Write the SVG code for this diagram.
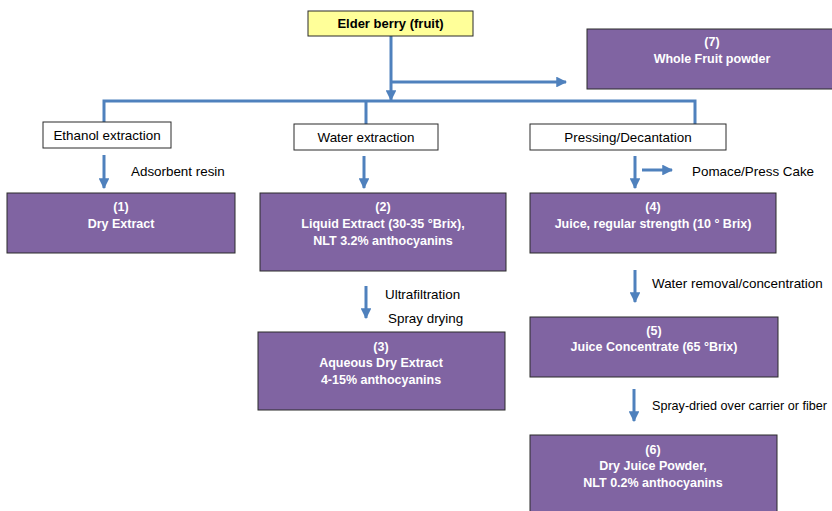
<svg xmlns="http://www.w3.org/2000/svg" width="832" height="511" viewBox="0 0 832 511">
<defs>
<style>
.p{fill:#8064A2;stroke:#2b2b2b;stroke-width:1}
.w{fill:#ffffff;stroke:#2b2b2b;stroke-width:1}
.y{fill:#FFFF99;stroke:#2b2b2b;stroke-width:1}
.tb{font-family:"Liberation Sans",Arial,sans-serif;font-size:12.5px;font-weight:bold;fill:#ffffff;text-anchor:middle}
.tk{font-family:"Liberation Sans",Arial,sans-serif;font-size:13px;font-weight:bold;fill:#000000;text-anchor:middle}
.t{font-family:"Liberation Sans",Arial,sans-serif;font-size:13.4px;fill:#000000}
.ts{font-size:12.6px}
.tc{text-anchor:middle}
.c{stroke:#4F81BD;stroke-width:3;fill:none}
.a{stroke:#4F81BD;stroke-width:3;fill:none;marker-end:url(#ah)}
</style>
<marker id="ah" viewBox="0 0 10 10" refX="9" refY="5" markerWidth="3.6" markerHeight="3.6" orient="auto" markerUnits="strokeWidth">
<path d="M0,0 L10,5 L0,10 z" fill="#4F81BD"/>
</marker>
</defs>
<rect width="832" height="511" fill="#ffffff"/>
<g id="connectors">
<line class="a" x1="391" y1="36" x2="391" y2="100"/>
<line class="a" x1="391" y1="82" x2="566" y2="82"/>
<polyline class="c" points="104,122 104,101 695,101 695,124"/>
<line class="c" x1="366" y1="101" x2="366" y2="124"/>
<line class="a" x1="104" y1="155" x2="104" y2="188"/>
<line class="a" x1="364" y1="156" x2="364" y2="188"/>
<line class="a" x1="635" y1="156" x2="635" y2="188"/>
<line class="a" x1="642" y1="170" x2="672" y2="170"/>
<line class="a" x1="366" y1="286" x2="366" y2="318"/>
<line class="a" x1="635" y1="270" x2="635" y2="302"/>
<line class="a" x1="634" y1="389" x2="634" y2="421"/>
</g>
<g id="labels">
<text class="t" x="131" y="176">Adsorbent resin</text>
<text class="t" x="692" y="176">Pomace/Press Cake</text>
<text class="t" x="385" y="299">Ultrafiltration</text>
<text class="t" x="388" y="323">Spray drying</text>
<text class="t" x="652" y="288">Water removal/concentration</text>
<text class="t ts" x="652" y="410">Spray-dried over carrier or fiber</text>
</g>
<g id="elderberry">
<rect class="y" x="308" y="11" width="165" height="25"/>
<text class="tk" x="390.5" y="28">Elder berry (fruit)</text>
</g>
<g id="n7">
<rect class="p" x="587" y="29" width="250" height="60"/>
<text class="tb" x="712" y="46">(7)</text>
<text class="tb" x="712" y="63">Whole Fruit powder</text>
</g>
<g id="ethanol">
<rect class="w" x="43" y="122" width="128" height="26"/>
<text class="t tc" x="107" y="140">Ethanol extraction</text>
</g>
<g id="water">
<rect class="w" x="294" y="124" width="144" height="26"/>
<text class="t tc" x="366" y="142">Water extraction</text>
</g>
<g id="pressing">
<rect class="w" x="530" y="124" width="196" height="26"/>
<text class="t tc" x="628" y="142">Pressing/Decantation</text>
</g>
<g id="n1">
<rect class="p" x="7" y="193" width="228" height="60"/>
<text class="tb" x="121" y="211">(1)</text>
<text class="tb" x="121" y="228">Dry Extract</text>
</g>
<g id="n2">
<rect class="p" x="260" y="193" width="246" height="78"/>
<text class="tb" x="383" y="211">(2)</text>
<text class="tb" x="383" y="228">Liquid Extract (30-35 °Brix),</text>
<text class="tb" x="383" y="245">NLT 3.2% anthocyanins</text>
</g>
<g id="n3">
<rect class="p" x="258" y="332" width="247" height="78"/>
<text class="tb" x="381" y="351">(3)</text>
<text class="tb" x="381" y="367">Aqueous Dry Extract</text>
<text class="tb" x="381" y="384">4-15% anthocyanins</text>
</g>
<g id="n4">
<rect class="p" x="530" y="193" width="246" height="60"/>
<text class="tb" x="653" y="211">(4)</text>
<text class="tb" x="653" y="228">Juice, regular strength (10 ° Brix)</text>
</g>
<g id="n5">
<rect class="p" x="530" y="317" width="248" height="60"/>
<text class="tb" x="654" y="335">(5)</text>
<text class="tb" x="654" y="351">Juice Concentrate (65 °Brix)</text>
</g>
<g id="n6">
<rect class="p" x="530" y="435" width="247" height="90"/>
<text class="tb" x="653" y="454">(6)</text>
<text class="tb" x="653" y="470">Dry Juice Powder,</text>
<text class="tb" x="653" y="487">NLT 0.2% anthocyanins</text>
</g>
</svg>
